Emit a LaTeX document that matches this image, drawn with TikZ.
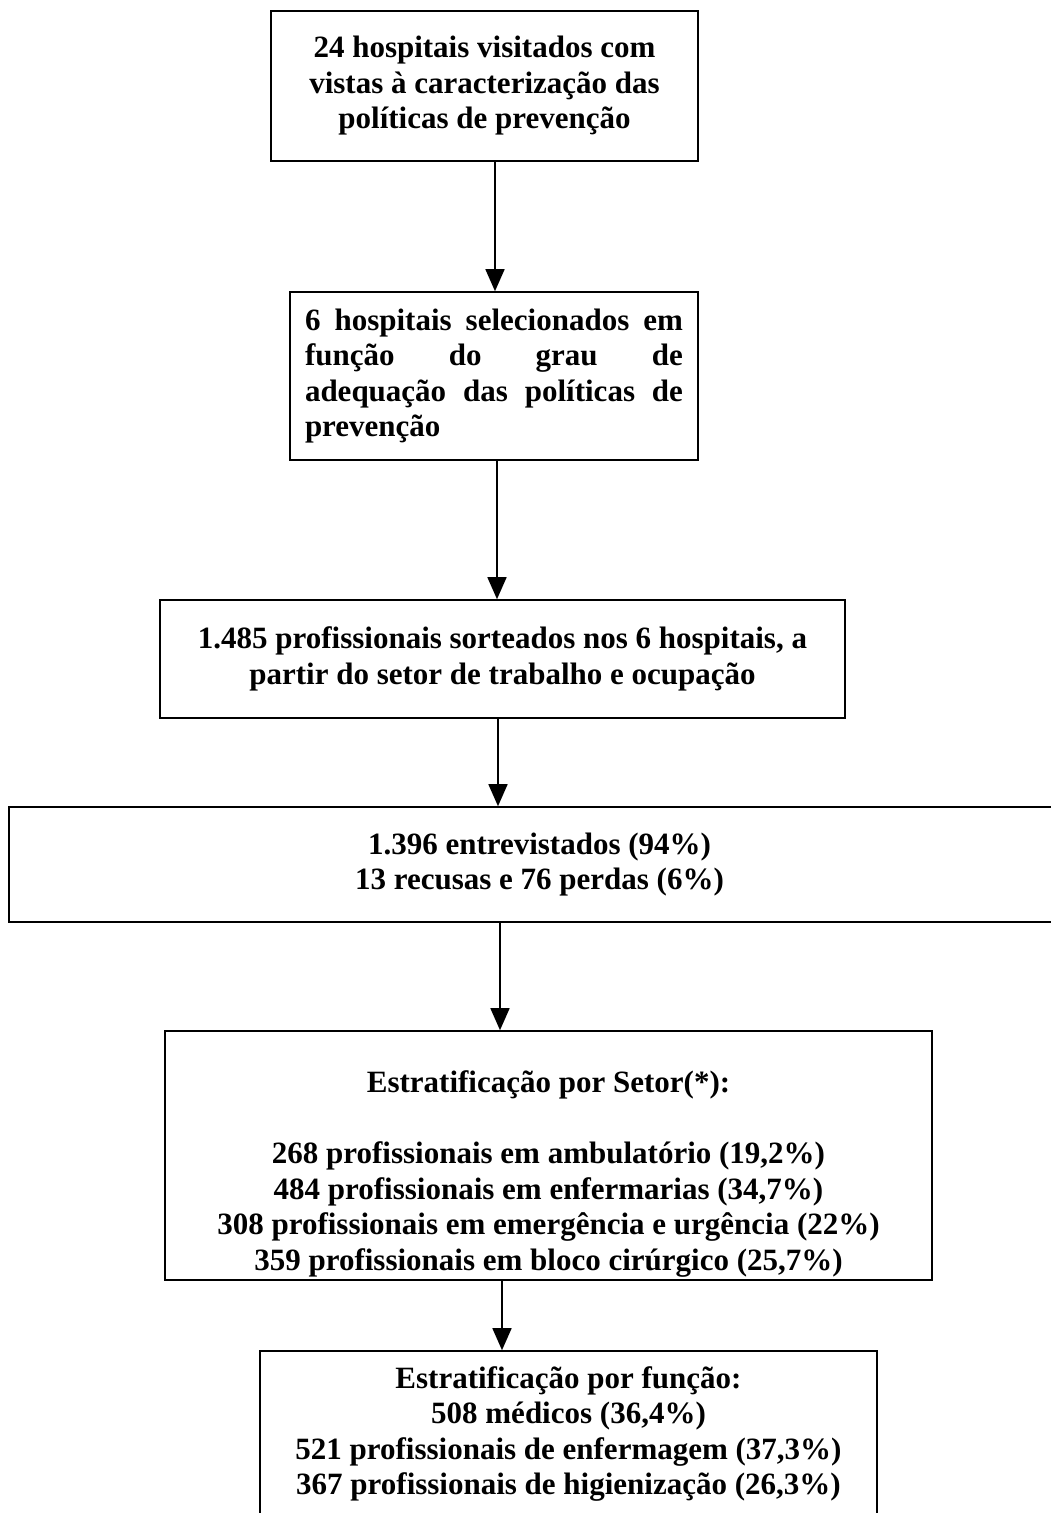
\documentclass[tikz,border=0pt]{standalone}
\usepackage{fontspec}
\setmainfont{Liberation Serif}
\usetikzlibrary{arrows.meta}
\begin{document}
\begin{tikzpicture}[x=1pt,y=-1pt,
  txt/.style={inner sep=0pt,font=\bfseries\fontsize{31}{35.5}\selectfont,align=center},
  box/.style={draw,line width=1.6pt,txt},
  arr/.style={line width=1.6pt,-{Triangle[length=22pt,width=19pt]}}]
\useasboundingbox (0,0) rectangle (1050,1513);
\node[box,minimum width=427,minimum height=150] (b1) at (484.5,86)
  {24 hospitais visitados com\\vistas à caracterização das\\políticas de prevenção};
\node[box,minimum width=408,minimum height=168,text width=378pt,align=justify] (b2) at (494,376)
  {\hyphenpenalty=10000 6 hospitais selecionados em\linebreak função do grau de\linebreak adequação das políticas de\linebreak prevenção};
\node[box,minimum width=685,minimum height=118] (b3) at (502.5,659)
  {1.485 profissionais sorteados nos 6 hospitais, a\\partir do setor de trabalho e ocupação};
\node[box,minimum width=1061,minimum height=115] (b4) at (539.5,864.5)
  {1.396 entrevistados (94\%)\\13 recusas e 76 perdas (6\%)};
\node[box,minimum width=767,minimum height=249,
  label={[txt,yshift=-18pt]center:{Estratificação por Setor(*):\\[36pt]268 profissionais em ambulatório (19,2\%)\\484 profissionais em enfermarias (34,7\%)\\308 profissionais em emergência e urgência (22\%)\\359 profissionais em bloco cirúrgico (25,7\%)}}] (b5) at (548.5,1155.5) {};
\node[box,minimum width=617,minimum height=166] (b6) at (568.5,1434)
  {Estratificação por função:\\508 médicos (36,4\%)\\521 profissionais de enfermagem (37,3\%)\\367 profissionais de higienização (26,3\%)};
\draw[arr] ([xshift=10.5]b1.south) -- ([xshift=10.5]b1.south |- b2.north);
\draw[arr] ([xshift=3]b2.south) -- ([xshift=3]b2.south |- b3.north);
\draw[arr] ([xshift=-4.5]b3.south) -- ([xshift=-4.5]b3.south |- b4.north);
\draw[arr] ([xshift=-39.5]b4.south) -- ([xshift=-39.5]b4.south |- b5.north);
\draw[arr] ([xshift=-46.5]b5.south) -- ([xshift=-46.5]b5.south |- b6.north);
\end{tikzpicture}
\end{document}
